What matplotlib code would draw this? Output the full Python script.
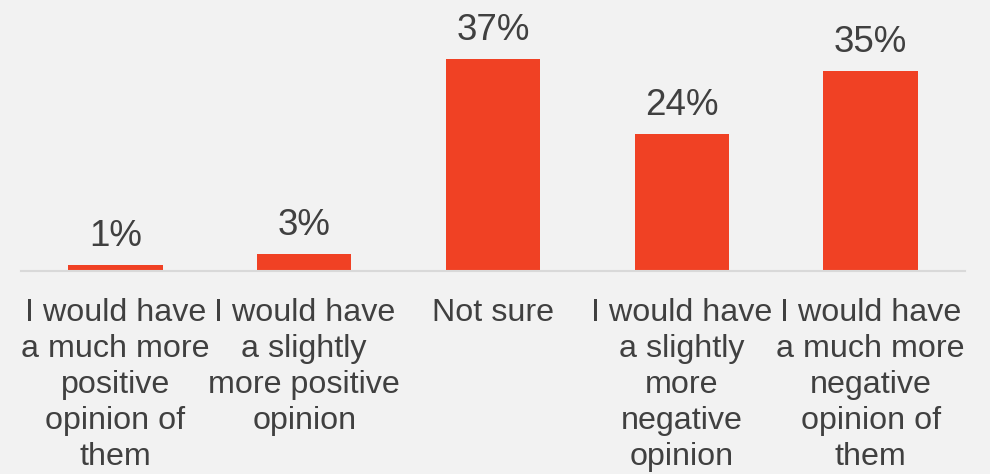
import matplotlib
matplotlib.use("Agg")
import matplotlib.pyplot as plt

# survey response shares, percent
categories = [
    "I would have\na much more\npositive\nopinion of\nthem",
    "I would have\na slightly\nmore positive\nopinion",
    "Not sure",
    "I would have\na slightly\nmore\nnegative\nopinion",
    "I would have\na much more\nnegative\nopinion of\nthem",
]
values = [1, 3, 37, 24, 35]

BAR_COLOR = "#f04124"
TEXT_COLOR = "#404040"
BG_COLOR = "#f2f2f2"

plt.rcParams["font.family"] = ["Liberation Sans", "DejaVu Sans"]

fig = plt.figure(figsize=(9.9, 4.74), dpi=100, facecolor=BG_COLOR)
ax = fig.add_axes([21 / 990, (474 - 271) / 474, 944 / 990, 271 / 474])
ax.set_facecolor(BG_COLOR)

x = list(range(len(values)))
bars = ax.bar(x, values, width=0.5, color=BAR_COLOR)

ax.set_xlim(-0.5, len(values) - 0.5)
ax.set_ylim(0, 271 / 5.72)

for b, v in zip(bars, values):
    ax.annotate(f"{v}%", (b.get_x() + b.get_width() / 2, b.get_height()),
                xytext=(0, 8), textcoords="offset points",
                ha="center", va="bottom", fontsize=26.5, color=TEXT_COLOR)

for xi, label in zip(x, categories):
    ax.text(xi, -0.098, label, transform=ax.get_xaxis_transform(),
            ha="center", va="top", fontsize=23.2, color=TEXT_COLOR,
            linespacing=1.27)

for side in ["top", "right", "left"]:
    ax.spines[side].set_visible(False)
ax.spines["bottom"].set_color("#d9d9d9")
ax.spines["bottom"].set_linewidth(1.5)
ax.set_xticks([])
ax.set_yticks([])

fig.savefig("out.png", dpi=100, facecolor=BG_COLOR)
